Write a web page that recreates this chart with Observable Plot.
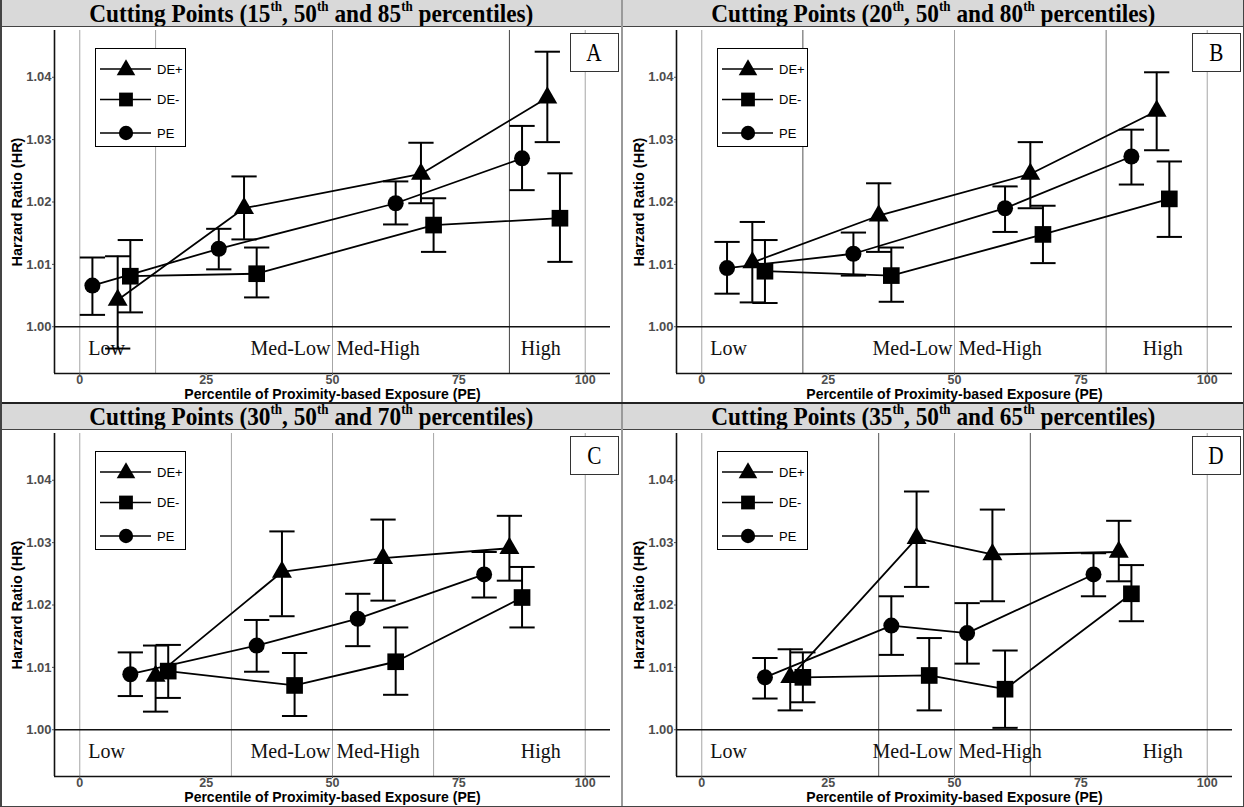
<!DOCTYPE html>
<html>
<head>
<meta charset="utf-8">
<script src="https://cdn.jsdelivr.net/npm/d3@7"></script>
<script src="https://cdn.jsdelivr.net/npm/@observablehq/plot@0.6"></script>
<style>
html,body{margin:0;padding:0;background:#fff;}
#root{position:relative;width:1244px;height:807px;overflow:hidden;background:#fff;}
.panel{position:absolute;overflow:hidden;}
.panel > svg{position:absolute;left:0;top:0;}
.ptitle{position:absolute;left:0;top:0;width:100%;height:26px;background:#d9d9d9;border-bottom:1.5px solid #444;z-index:2;text-align:center;overflow:hidden;}
.ptitle span{display:inline-block;font:bold 25px "Liberation Serif",serif;line-height:27px;white-space:nowrap;transform-origin:50% 50%;}
.ptitle sup{font-size:14px;line-height:0;position:relative;top:-2px;}
.legend{position:absolute;left:95px;top:48px;width:91px;height:99px;border:1.5px solid #000;box-sizing:border-box;background:#fff;z-index:3;}
.legend svg{position:absolute;left:-1.5px;top:-1.5px;}
.letter{position:absolute;left:570px;top:33px;width:49px;height:39px;border:1px solid #333;box-sizing:border-box;background:#fff;z-index:3;text-align:center;}
.letter span{display:inline-block;font:25px "Liberation Serif",serif;line-height:37px;transform:scaleX(0.85);}
.sep{position:absolute;z-index:5;}
</style>
</head>
<body>
<div id="root"></div>
<script>
// ---------- data ----------
const seriesNames = ["DE+", "DE-", "PE"];
const panelLetters = ["A", "B", "C", "D"];
const cutA = [15, 50, 85];
const cutB = [20, 50, 80];
const cutC = [30, 50, 70];
const cutD = [35, 50, 65];
const xTicks = [0, 25, 50, 75, 100];
const yTicks = [1.00, 1.01, 1.02, 1.03, 1.04];
const categoryLabels = ["Low", "Med-Low", "Med-High", "High"];
const categoryLabelX = [5.3, 49.6, 50.8, 91.2];
const xLabel = "Percentile of Proximity-based Exposure (PE)";
const yLabel = "Harzard Ratio (HR)";

// rows: [percentile x, HR, lower CI, upper CI]
const A_DEplus  = [[7.5, 1.0043, 0.9965, 1.0113], [32.5, 1.0190, 1.0140, 1.0241], [67.5, 1.0245, 1.0198, 1.0295], [92.5, 1.0367, 1.0296, 1.0441]];
const A_DEminus = [[10, 1.0081, 1.0023, 1.0139], [35, 1.0085, 1.0047, 1.0127], [70, 1.0163, 1.0120, 1.0206], [95, 1.0174, 1.0104, 1.0246]];
const A_PE      = [[2.5, 1.0066, 1.0019, 1.0111], [27.5, 1.0125, 1.0092, 1.0157], [62.5, 1.0198, 1.0164, 1.0233], [87.5, 1.0270, 1.0219, 1.0322]];

const B_DEplus  = [[10, 1.0103, 1.0039, 1.0168], [35, 1.0178, 1.0120, 1.0230], [65, 1.0245, 1.0190, 1.0296], [90, 1.0346, 1.0283, 1.0408]];
const B_DEminus = [[12.5, 1.0089, 1.0038, 1.0139], [37.5, 1.0082, 1.0040, 1.0127], [67.5, 1.0148, 1.0102, 1.0194], [92.5, 1.0205, 1.0144, 1.0265]];
const B_PE      = [[5, 1.0094, 1.0053, 1.0136], [30, 1.0117, 1.0082, 1.0151], [60, 1.0190, 1.0152, 1.0225], [85, 1.0273, 1.0228, 1.0316]];

const C_DEplus  = [[15, 1.0086, 1.0029, 1.0135], [40, 1.0253, 1.0182, 1.0318], [60, 1.0275, 1.0207, 1.0337], [85, 1.0291, 1.0239, 1.0343]];
const C_DEminus = [[17.5, 1.0094, 1.0051, 1.0136], [42.5, 1.0071, 1.0022, 1.0123], [62.5, 1.0109, 1.0056, 1.0164], [87.5, 1.0212, 1.0164, 1.0261]];
const C_PE      = [[10, 1.0089, 1.0054, 1.0124], [35, 1.0135, 1.0093, 1.0176], [55, 1.0178, 1.0134, 1.0218], [80, 1.0249, 1.0212, 1.0285]];

const D_DEplus  = [[17.5, 1.0084, 1.0031, 1.0129], [42.5, 1.0307, 1.0229, 1.0382], [57.5, 1.0281, 1.0206, 1.0353], [82.5, 1.0285, 1.0238, 1.0335]];
const D_DEminus = [[20, 1.0084, 1.0044, 1.0124], [45, 1.0087, 1.0031, 1.0147], [60, 1.0065, 1.0003, 1.0127], [85, 1.0218, 1.0174, 1.0264]];
const D_PE      = [[12.5, 1.0084, 1.0050, 1.0115], [37.5, 1.0167, 1.0120, 1.0214], [52.5, 1.0155, 1.0106, 1.0203], [77.5, 1.0249, 1.0214, 1.0283]];

// ---------- layout ----------
const panels = [
  {letter: panelLetters[0], cuts: cutA, series: [A_DEplus, A_DEminus, A_PE], left: 0,   top: 0,   h: 403, cutStroke: ["#a6a6a6", "#444"]},
  {letter: panelLetters[1], cuts: cutB, series: [B_DEplus, B_DEminus, B_PE], left: 622, top: 0,   h: 403, cutStroke: ["#555", "#777"]},
  {letter: panelLetters[2], cuts: cutC, series: [C_DEplus, C_DEminus, C_PE], left: 0,   top: 403, h: 404, cutStroke: ["#a6a6a6", "#a6a6a6"]},
  {letter: panelLetters[3], cuts: cutD, series: [D_DEplus, D_DEminus, D_PE], left: 622, top: 403, h: 404, cutStroke: ["#555", "#555"]}
];

const xDom = [-5, 105];
const yDom = [0.9925, 1.0475];
const root = document.getElementById("root");
const serif = "'Liberation Serif', 'Times New Roman', serif";
const sans = "'Liberation Sans', Arial, sans-serif";

function makePlot(p) {
  const rows = p.series.flatMap((arr, si) => arr.map(([x, hr, lo, hi]) => ({s: seriesNames[si], x, hr, lo, hi})));
  const bySeries = s => rows.filter(r => r.s === s);
  const outerCuts = [p.cuts[0], p.cuts[2]];
  const cats = categoryLabels.map((t, i) => ({t, x: categoryLabelX[i]}));
  const capW = 2.5;
  const catOpts = {x: "x", text: "t", frameAnchor: "bottom", lineAnchor: "middle", dy: -25, fontFamily: serif, fontSize: 20, fill: "#111"};
  return Plot.plot({
    width: 622, height: 403,
    marginLeft: 54, marginRight: 12, marginTop: 30, marginBottom: 30,
    style: {fontFamily: sans, fontSize: "13px", background: "transparent", overflow: "visible"},
    x: {domain: xDom},
    y: {domain: yDom},
    marks: [
      Plot.ruleX([xTicks[0], p.cuts[1], xTicks[4]], {stroke: "#a6a6a6", strokeWidth: 1}),
      Plot.ruleX([outerCuts[0]], {stroke: p.cutStroke[0], strokeWidth: 1}),
      Plot.ruleX([outerCuts[1]], {stroke: p.cutStroke[1], strokeWidth: 1}),
      Plot.ruleY([1], {stroke: "#111", strokeWidth: 1.5}),
      Plot.ruleX([xDom[0]], {stroke: "#111", strokeWidth: 1.6}),
      Plot.ruleY([yDom[0]], {stroke: "#111", strokeWidth: 1.6}),
      Plot.axisX({ticks: xTicks, tickSize: 2, tickPadding: 0, fontWeight: "bold", fontSize: 12.5, color: "#4d4d4d", label: null}),
      Plot.axisY({ticks: yTicks, tickFormat: d => d.toFixed(2), tickSize: 2, tickPadding: 1, fontWeight: "bold", fontSize: 13, color: "#4d4d4d", label: null}),
      Plot.text([xLabel], {text: d => d, frameAnchor: "bottom", lineAnchor: "middle", dy: 21, fontWeight: "bold", fontSize: 14, fill: "#000"}),
      Plot.text([yLabel], {text: d => d, frameAnchor: "left", textAnchor: "middle", lineAnchor: "middle", rotate: -90, dx: -37, fontWeight: "bold", fontSize: 14.5, fill: "#000"}),
      Plot.text(cats.filter((d, i) => i === 0 || i === 3), {...catOpts, textAnchor: "middle"}),
      Plot.text(cats.filter((d, i) => i === 1), {...catOpts, textAnchor: "end"}),
      Plot.text(cats.filter((d, i) => i === 2), {...catOpts, textAnchor: "start"}),
      Plot.ruleX(rows, {x: "x", y1: "lo", y2: "hi", stroke: "#000", strokeWidth: 2}),
      Plot.link(rows, {x1: d => d.x - capW, x2: d => d.x + capW, y1: "hi", y2: "hi", stroke: "#000", strokeWidth: 2}),
      Plot.link(rows, {x1: d => d.x - capW, x2: d => d.x + capW, y1: "lo", y2: "lo", stroke: "#000", strokeWidth: 2}),
      Plot.line(rows, {x: "x", y: "hr", z: "s", stroke: "#000", strokeWidth: 1.8}),
      Plot.dot(bySeries("DE+"), {x: "x", y: "hr", symbol: "triangle", r: 7.4, fill: "#000", stroke: "none"}),
      Plot.dot(bySeries("DE-"), {x: "x", y: "hr", symbol: "square", r: 9.4, fill: "#000", stroke: "none"}),
      Plot.dot(bySeries("PE"), {x: "x", y: "hr", symbol: "circle", r: 8, fill: "#000", stroke: "none"})
    ]
  });
}

function makeLegend() {
  const svg = d3.create("svg").attr("width", 91).attr("height", 99);
  const rowY = [21, 51.5, 85];
  const syms = [d3.symbolTriangle, d3.symbolSquare, d3.symbolCircle];
  const sizes = [150, 190, 160];
  seriesNames.forEach((n, i) => {
    const g = svg.append("g").attr("transform", `translate(0,${rowY[i]})`);
    g.append("line").attr("x1", 5).attr("x2", 56).attr("stroke", "#000").attr("stroke-width", 1.6);
    g.append("path").attr("d", d3.symbol(syms[i], sizes[i])()).attr("transform", `translate(31,${i === 0 ? 1 : 0})`).attr("fill", "#000");
    g.append("text").attr("x", 62).attr("dy", "0.36em").attr("font-family", sans).attr("font-size", 13).attr("fill", "#000").text(n);
  });
  return svg.node();
}

panels.forEach(p => {
  const div = document.createElement("div");
  div.className = "panel";
  div.style.left = p.left + "px";
  div.style.top = p.top + "px";
  div.style.width = "622px";
  div.style.height = p.h + "px";
  div.appendChild(makePlot(p));

  const t = document.createElement("div");
  t.className = "ptitle";
  const span = document.createElement("span");
  span.innerHTML = `Cutting Points (${p.cuts[0]}<sup>th</sup>, ${p.cuts[1]}<sup>th</sup> and ${p.cuts[2]}<sup>th</sup> percentiles)`;
  t.appendChild(span);
  div.appendChild(t);

  const lg = document.createElement("div");
  lg.className = "legend";
  lg.appendChild(makeLegend());
  div.appendChild(lg);

  const lt = document.createElement("div");
  lt.className = "letter";
  lt.innerHTML = `<span>${p.letter}</span>`;
  div.appendChild(lt);

  root.appendChild(div);
  const w = span.getBoundingClientRect().width;
  span.style.transform = `scaleX(${(444 / w).toFixed(3)})`;
});

// panel separators
function sep(l, t, w, h, c) {
  const d = document.createElement("div");
  d.className = "sep";
  Object.assign(d.style, {left: l + "px", top: t + "px", width: w + "px", height: h + "px", background: c});
  root.appendChild(d);
}
sep(621, 0, 2, 807, "#9a9a9a");
sep(0, 402, 1244, 1.5, "#222");
sep(0, 0, 1.5, 807, "#444");
sep(1242.5, 0, 1.5, 807, "#444");
sep(0, 805.5, 1244, 1.5, "#444");
</script>
</body>
</html>
